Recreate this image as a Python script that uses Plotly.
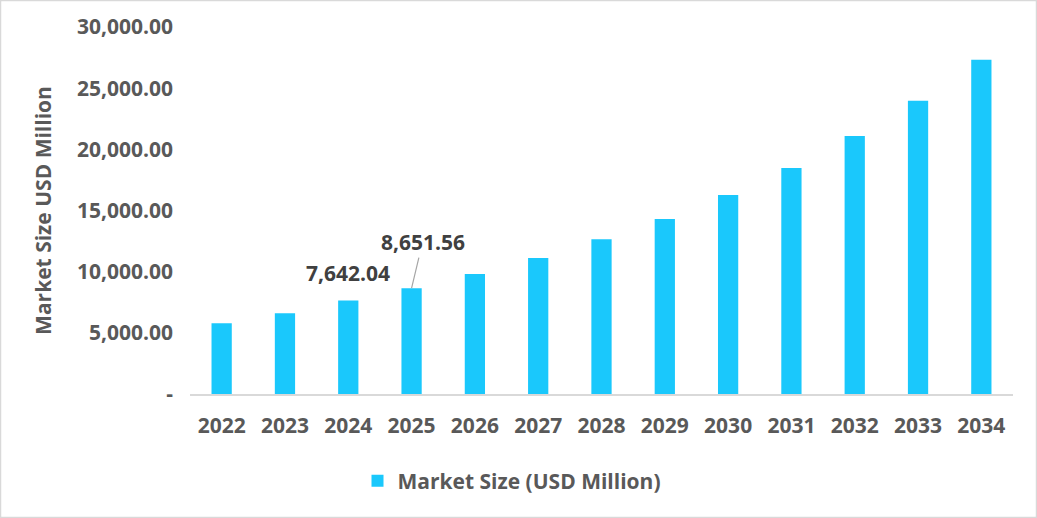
import plotly.graph_objects as go

# values
years = ["2022", "2023", "2024", "2025", "2026", "2027", "2028",
         "2029", "2030", "2031", "2032", "2033", "2034"]
market_size = [5780, 6600, 7642.04, 8651.56, 9800, 11110, 12660,
               14300, 16270, 18480, 21100, 23970, 27330]
y_ticks = [0, 5000, 10000, 15000, 20000, 25000, 30000]
y_tick_labels = ["-", "5,000.00", "10,000.00", "15,000.00",
                 "20,000.00", "25,000.00", "30,000.00"]

W, H = 1037, 518
ML, MR, MT, MB = 190, 24, 27, 124
FONT = "Open Sans"
GREY = "#595959"

fig = go.Figure()

fig.add_trace(
    go.Bar(
        x=years,
        y=market_size,
        name="Market Size (USD Million)",
        marker=dict(color="#1ac8fc", line=dict(width=0)),
        width=0.32,
    )
)

# data labels for 2024 and 2025 (category index positions)
i24, i25 = years.index("2024"), years.index("2025")
fig.add_annotation(
    x=i24, y=market_size[i24], text="<b>7,642.04</b>",
    showarrow=False, yanchor="bottom", yshift=12,
    font=dict(family=FONT, size=21, color="#404040"),
)
fig.add_annotation(
    x=i25, y=market_size[i25], text="<b>8,651.56</b>",
    showarrow=True, arrowhead=0, arrowwidth=1.2, arrowcolor="#a6a6a6",
    ax=11, ay=-46, standoff=0,
    font=dict(family=FONT, size=21, color="#404040"),
)

# thin grey border around the whole picture
pw = W - ML - MR
ph = H - MT - MB
fig.add_shape(
    type="rect", xref="paper", yref="paper",
    x0=(0.5 - ML) / pw, x1=(W - 0.5 - ML) / pw,
    y0=-(MB - 0.5) / ph, y1=(H - MB - 0.5) / ph,
    line=dict(color="#d9d9d9", width=1.5),
)

fig.update_layout(
    width=W,
    height=H,
    margin=dict(l=ML, r=MR, t=MT, b=MB),
    paper_bgcolor="white",
    plot_bgcolor="white",
    font=dict(family=FONT, color=GREY),
    bargap=0.68,
    showlegend=True,
    legend=dict(
        orientation="h",
        x=(512 - ML) / pw, xanchor="center",
        y=-(481 - (H - MB)) / ph, yanchor="middle",
        font=dict(family=FONT, size=21, color=GREY, weight="bold"),
        itemsizing="constant",
    ),
    xaxis=dict(
        type="category",
        range=[-0.5, len(years) - 0.5],
        showgrid=False,
        showline=True,
        linecolor="#d9d9d9",
        linewidth=2,
        ticks="",
        ticklabelstandoff=12,
        tickfont=dict(family=FONT, size=21, color=GREY, weight="bold"),
    ),
    yaxis=dict(
        range=[0, 30000],
        tickvals=y_ticks,
        ticktext=y_tick_labels,
        showgrid=False,
        zeroline=False,
        showline=False,
        ticks="",
        ticklabelstandoff=16,
        tickfont=dict(family=FONT, size=21, color=GREY, weight="bold"),
        title=dict(
            text="<b>Market Size USD Million</b>",
            font=dict(family=FONT, size=21, color=GREY),
            standoff=19,
        ),
    ),
)

# drop the browser's default page margin so the chart sits at the corner
fig.write_html(
    "out.html",
    config={"displayModeBar": False},
    post_script="document.body.style.margin='0px';",
)
